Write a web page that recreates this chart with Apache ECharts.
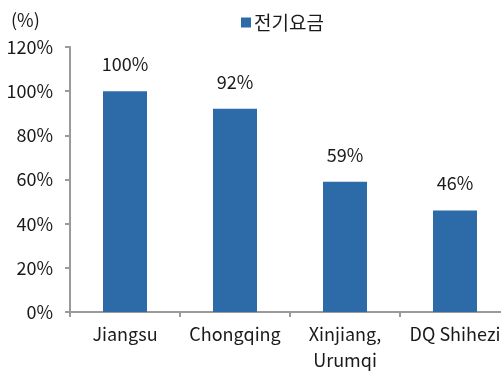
<!DOCTYPE html>
<html>
<head>
<meta charset="utf-8">
<script src="https://cdn.jsdelivr.net/npm/echarts@6/dist/echarts.min.js"></script>
<style>
  html, body { margin: 0; padding: 0; background: #fff; }
  #chart { width: 501px; height: 372px; }
</style>
</head>
<body>
<div id="chart"></div>
<script>
// Electricity tariff comparison by region (%)
const categories = ['Jiangsu', 'Chongqing', 'Xinjiang,\nUrumqi', 'DQ Shihezi'];
const tariffValues = [100, 92, 59, 46];
const seriesName = '전기요금';
const yTicks = [0, 20, 40, 60, 80, 100, 120];

const FONT = '"Noto Sans CJK KR", "Noto Sans", sans-serif';
const TEXT = '#1a1a1a';
const AXIS = '#9a9a9a';
const FS = 18;

const chart = echarts.init(document.getElementById('chart'), null, { renderer: 'canvas' });
chart.setOption({
  animation: false,
  textStyle: { fontFamily: FONT },
  grid: { left: 70, top: 47, width: 440, bottom: 60, containLabel: false, outerBoundsMode: 'none' },
  legend: {
    data: [seriesName],
    top: 8,
    left: 236,
    itemWidth: 10,
    itemHeight: 10,
    itemGap: 3,
    icon: 'rect',
    textStyle: { fontFamily: FONT, fontSize: 19, color: TEXT, padding: [0, 0, 0, -2] }
  },
  graphic: [{
    type: 'text',
    left: 11,
    top: 11,
    style: { text: '(%)', font: FS + 'px ' + FONT, fill: TEXT }
  }],
  xAxis: {
    type: 'category',
    data: categories,
    axisLine: { lineStyle: { color: AXIS, width: 2 } },
    axisTick: { show: true, alignWithLabel: false, length: 5, lineStyle: { color: AXIS, width: 2 } },
    axisLabel: { fontFamily: FONT, fontSize: FS, color: TEXT, margin: 9, lineHeight: 26, interval: 0 }
  },
  yAxis: {
    type: 'value',
    min: yTicks[0],
    max: yTicks[yTicks.length - 1],
    interval: 20,
    splitLine: { show: false },
    axisLine: { show: true, lineStyle: { color: AXIS, width: 2 } },
    axisTick: { show: true, length: 5, lineStyle: { color: AXIS, width: 2 } },
    axisLabel: { fontFamily: FONT, fontSize: FS, color: TEXT, margin: 17, formatter: '{value}%' }
  },
  series: [{
    name: seriesName,
    type: 'bar',
    data: tariffValues,
    barWidth: '40%',
    itemStyle: { color: '#2C6AA8' },
    label: {
      show: true,
      position: 'top',
      distance: 18,
      fontFamily: FONT,
      fontSize: FS,
      color: TEXT,
      formatter: '{c}%'
    }
  }]
});
</script>
</body>
</html>
